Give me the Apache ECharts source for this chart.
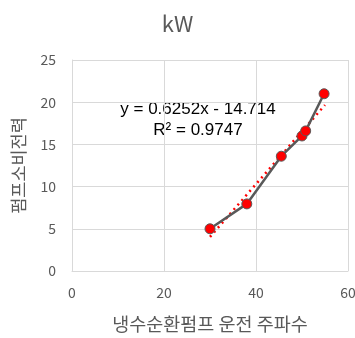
<!DOCTYPE html>
<html>
<head>
<meta charset="utf-8">
<script src="https://cdn.jsdelivr.net/npm/echarts@6/dist/echarts.min.js"></script>
<style>
  html, body { margin: 0; padding: 0; background: #fff; }
  #chart { width: 355px; height: 338px; }
</style>
</head>
<body>
<div id="chart"></div>
<script>
// 운전 주파수 (Hz) vs 펌프 소비전력 (kW)
const freq = [30, 38, 45.5, 50, 50.8, 54.8];
const power = [5.0, 7.95, 13.6, 16.0, 16.6, 21.0];
// 선형 추세선 끝점
const trendX = [30, 55];
const trendY = [4.04, 19.67];
const xTicks = [0, 20, 40, 60];
const yTicks = [0, 5, 10, 15, 20, 25];

const labelFont = '"Noto Sans CJK KR", "Noto Sans", sans-serif';
const grey = '#595959';

const chart = echarts.init(document.getElementById('chart'));

const option = {
    animation: false,
    title: {
        text: 'kW',
        left: 'center',
        top: 8,
        textStyle: { color: grey, fontSize: 22, fontWeight: 'normal', fontFamily: labelFont }
    },
    grid: { left: 72, right: 7, top: 60, bottom: 67, containLabel: false, outerBoundsMode: 'none' },
    xAxis: {
        type: 'value',
        min: xTicks[0],
        max: xTicks[xTicks.length - 1],
        interval: 20,
        name: '냉수순환펌프 운전 주파수',
        nameLocation: 'middle',
        nameGap: 44,
        nameTextStyle: { color: grey, fontSize: 18.5, fontFamily: labelFont },
        axisLine: { lineStyle: { color: '#d9d9d9' } },
        axisTick: { show: false },
        axisLabel: { color: grey, fontSize: 14, margin: 15, fontFamily: labelFont },
        splitLine: { lineStyle: { color: '#d9d9d9' } }
    },
    yAxis: {
        type: 'value',
        min: yTicks[0],
        max: yTicks[yTicks.length - 1],
        interval: 5,
        name: '펌프소비전력',
        nameLocation: 'middle',
        nameGap: 45,
        nameTextStyle: { color: grey, fontSize: 17.5, fontFamily: labelFont },
        axisLine: { show: true, lineStyle: { color: '#d9d9d9' } },
        axisTick: { show: false },
        axisLabel: { color: grey, fontSize: 14, margin: 16, fontFamily: labelFont },
        splitLine: { lineStyle: { color: '#d9d9d9' } }
    },
    series: [
        {
            type: 'line',
            data: trendX.map((x, i) => [x, trendY[i]]),
            symbol: 'none',
            lineStyle: { color: '#ff0000', width: 2.5, type: [2, 4] },
            z: 3
        },
        {
            type: 'line',
            data: freq.map((x, i) => [x, power[i]]),
            symbol: 'circle',
            symbolSize: 10,
            lineStyle: { color: grey, width: 2.5 },
            itemStyle: { color: '#ff0000', borderColor: grey, borderWidth: 1 },
            z: 4
        }
    ],
    graphic: [
        {
            type: 'text',
            x: 198,
            y: 99,
            style: {
                text: 'y = 0.6252x - 14.714\nR² = 0.9747',
                font: '17px "Liberation Sans", Arial, sans-serif',
                fill: '#000',
                align: 'center',
                lineHeight: 21
            }
        }
    ]
};

chart.setOption(option);
</script>
</body>
</html>
